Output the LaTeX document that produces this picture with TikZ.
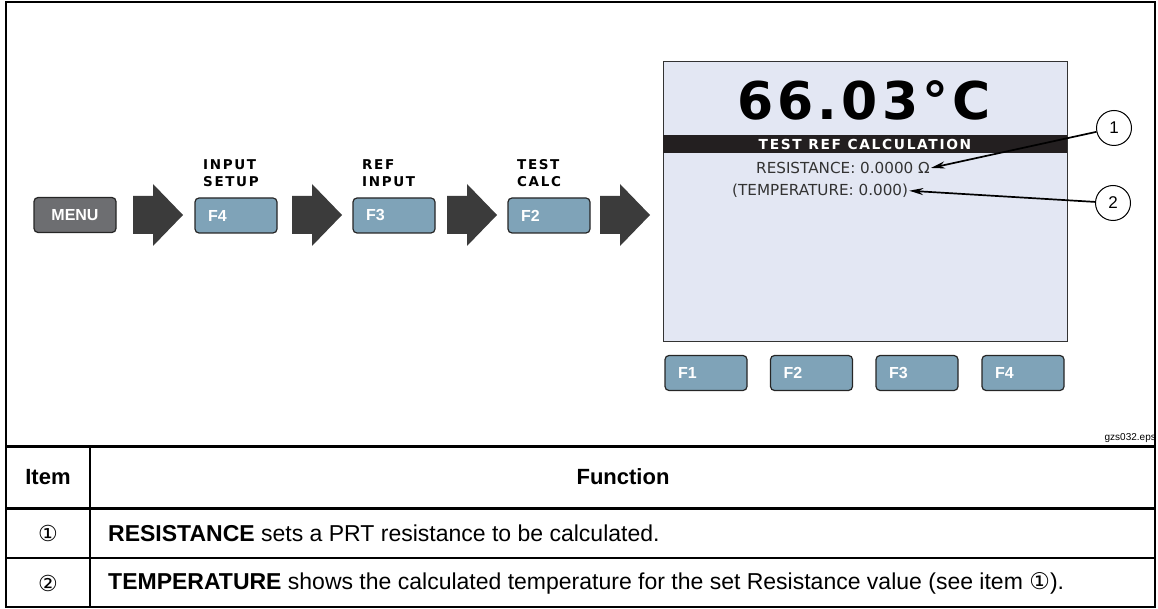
\documentclass[tikz,border=0pt]{standalone}
\usepackage{fontspec}
\setmainfont{Liberation Sans}
\newfontfamily\lcdfont{DejaVu Sans}
\newfontfamily\lcdwide[LetterSpace=8]{DejaVu Sans}
\newfontfamily\lblfont[LetterSpace=12]{DejaVu Sans}
\usetikzlibrary{arrows.meta}

\definecolor{keyblue}{HTML}{7FA3B8}
\definecolor{keygray}{HTML}{6D6E71}
\definecolor{arrowgray}{HTML}{3B3B3B}
\definecolor{lcdback}{HTML}{E3E7F3}
\definecolor{lcdband}{HTML}{231F20}

\tikzset{
  key/.style={draw=black!85, line width=1.2pt, rounded corners=4pt, fill=keyblue,
    minimum width=82pt, minimum height=35pt, text width=56pt, inner xsep=13pt,
    align=left, text=white, font=\bfseries\fontsize{16}{16}\selectfont},
  menukey/.style={key, fill=keygray, align=center},
  keylabel/.style={anchor=north west, align=left, inner sep=0pt,
    font=\lblfont\bfseries\fontsize{13.5}{17.5}\selectfont},
  callout/.style={-{Stealth[length=14pt,width=7pt]}, line width=1.7pt},
  itemno/.style={circle, draw, line width=1pt, minimum size=35pt, inner sep=0pt,
    fill=white, font=\fontsize{17}{17}\selectfont},
  cell/.style={anchor=west, inner sep=0pt, font=\fontsize{23}{23}\selectfont},
}
\newcommand{\bigarrow}[2]{%
  \fill[arrowgray, shift={(#1,#2)}] (0,-19) -- (20,-19) -- (20,-31) -- (50,0)
    -- (20,31) -- (20,19) -- (0,19) -- cycle;}

\begin{document}
\begin{tikzpicture}[x=1pt, y=-1pt]
  \useasboundingbox (0,0) rectangle (1158,609);

  % key sequence
  \node[menukey] (menu) at (75,215) {MENU};
  \bigarrow{133}{215}
  \node[key] (setup) at (236,215.5) {F4};
  \node[keylabel] (setuplbl) at (203,159) {INPUT\\SETUP};
  \bigarrow{292}{215}
  \node[key] (refin) at (394,215.5) {F3};
  \node[keylabel] (refinlbl) at (362,159) {REF\\INPUT};
  \bigarrow{447}{215}
  \node[key] (calc) at (549,215.5) {F2};
  \node[keylabel] (calclbl) at (517,159) {TEST\\CALC};
  \bigarrow{600}{215}

  % display
  \node[draw=black!80, line width=1pt, fill=lcdback, minimum width=404pt,
    minimum height=279pt, inner sep=0pt] (screen) at (865,201.5) {};
  \node[font=\lcdwide\bfseries\fontsize{52}{52}\selectfont, inner sep=0pt,
    anchor=base] (reading) at (864,120) {66.03°C};
  \node[fill=lcdband, minimum width=404pt, minimum height=18pt, inner sep=0pt,
    text=white, font=\lblfont\bfseries\fontsize{13.8}{13.8}\selectfont] (band) at (865,144) {TEST REF CALCULATION};
  \node[anchor=base east, inner sep=1pt, font=\lcdfont\fontsize{15.2}{15.2}\selectfont,
    text=black!80] (res) at (931,173.5) {RESISTANCE: 0.0000 Ω};
  \node[anchor=base west, inner sep=1pt, font=\lcdfont\fontsize{15.2}{15.2}\selectfont,
    text=black!80] (temp) at (731,195.5) {(TEMPERATURE: 0.000)};

  \node[itemno] (c1) at (1114,128) {1};
  \node[itemno] (c2) at (1113,203) {2};
  \draw[callout] (c1) -- (res.east);
  \draw[callout] (c2) -- (temp.east);

  \foreach \k/\x in {F1/706, F2/811.5, F3/917, F4/1023}
    \node[key] (soft\k) at (\x,373) {\k};

  \node[anchor=base east, inner sep=0pt, font=\fontsize{10}{10}\selectfont] (eps) at (1156,440) {gzs032.eps};

  % table
  \draw[line width=2pt] (6,2) rectangle (1155,607);
  \draw[line width=3pt] (6,446) -- (1155,446);
  \draw[line width=3pt] (6,508) -- (1155,508);
  \draw[line width=1.5pt] (6,558) -- (1155,558);
  \draw[line width=1.5pt] (90,446) -- (90,607);

  \node[font=\bfseries\fontsize{22}{22}\selectfont] (itemhd) at (48,477) {Item};
  \node[font=\bfseries\fontsize{22}{22}\selectfont] (funchd) at (623,477) {Function};
  \node[font=\lcdfont\fontsize{22}{22}\selectfont] (no1) at (48,533) {①};
  \node[font=\lcdfont\fontsize{22}{22}\selectfont] (no2) at (48,583) {②};
  \node[cell] (row1) at (108,533) {\textbf{RESISTANCE} sets a PRT resistance to be calculated.};
  \node[cell] (row2) at (108,583) {\textbf{TEMPERATURE} shows the calculated temperature for the set Resistance value (see item {\lcdfont①}).};
\end{tikzpicture}
\end{document}
